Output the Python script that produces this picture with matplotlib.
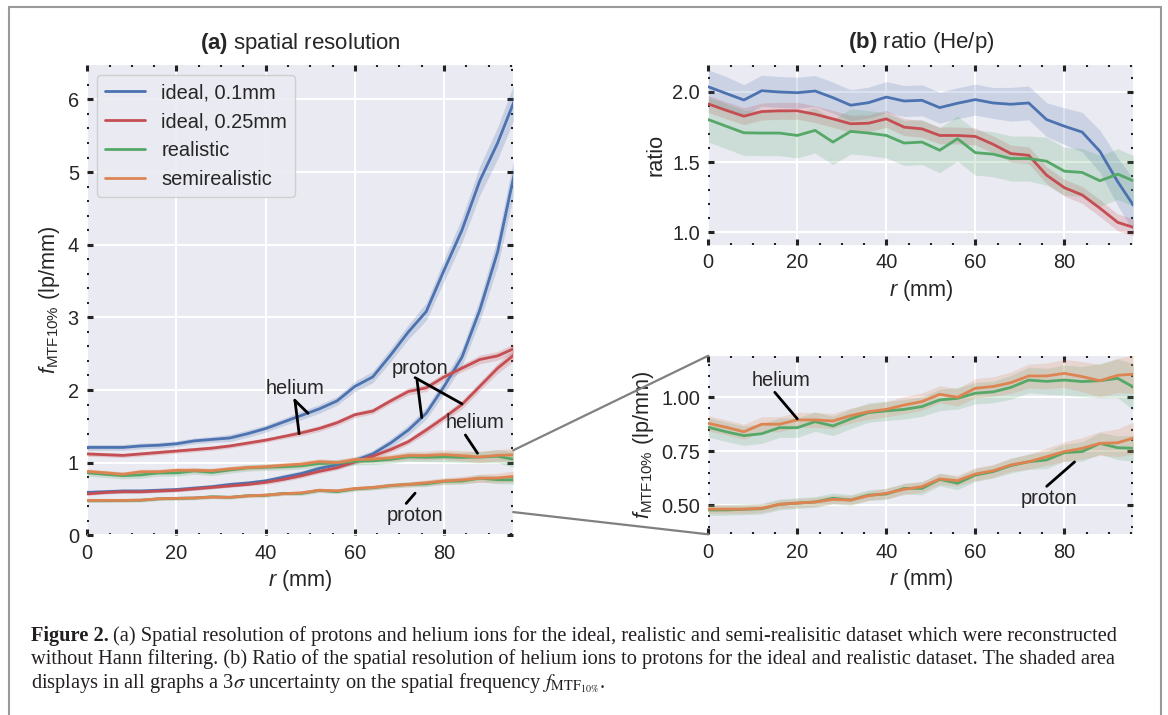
import numpy as np
import matplotlib
matplotlib.use("Agg")
import matplotlib.pyplot as plt
from matplotlib.ticker import AutoMinorLocator, MultipleLocator, FormatStrFormatter
from matplotlib.patches import ConnectionPatch, Rectangle

# radial position of the evaluation bins (mm)
r_mm = [0, 4, 8, 12, 16, 20, 24, 28, 32, 36, 40, 44, 48,
        52, 56, 60, 64, 68, 72, 76, 80, 84, 88, 92, 96]

# f_MTF10% (lp/mm) - ideal dataset, 0.1 mm pixels
ideal01_he = [1.21, 1.21, 1.21, 1.23, 1.24, 1.26, 1.30, 1.32, 1.34, 1.40, 1.47, 1.56, 1.65,
              1.74, 1.85, 2.05, 2.18, 2.48, 2.80, 3.08, 3.65, 4.20, 4.88, 5.40, 6.02]
ideal01_p = [0.59, 0.60, 0.61, 0.61, 0.62, 0.63, 0.65, 0.67, 0.70, 0.72, 0.75, 0.80, 0.85,
             0.92, 0.97, 1.03, 1.12, 1.27, 1.45, 1.68, 2.05, 2.45, 3.10, 3.90, 5.05]
# ideal dataset, 0.25 mm pixels
ideal025_he = [1.12, 1.11, 1.10, 1.12, 1.14, 1.16, 1.18, 1.20, 1.23, 1.27, 1.31, 1.36, 1.41,
               1.47, 1.55, 1.66, 1.71, 1.85, 1.98, 2.03, 2.18, 2.30, 2.42, 2.47, 2.58]
ideal025_p = [0.57, 0.59, 0.60, 0.60, 0.61, 0.62, 0.64, 0.66, 0.68, 0.70, 0.73, 0.77, 0.82,
              0.88, 0.93, 1.01, 1.09, 1.18, 1.29, 1.45, 1.62, 1.80, 2.05, 2.30, 2.50]
# realistic dataset
real_he = [0.861, 0.840, 0.822, 0.831, 0.859, 0.859, 0.887, 0.867, 0.900, 0.929, 0.937, 0.944, 0.957,
           0.988, 0.995, 1.019, 1.025, 1.046, 1.080, 1.074, 1.080, 1.073, 1.077, 1.088, 1.042]
real_p = [0.477, 0.477, 0.480, 0.483, 0.503, 0.509, 0.514, 0.531, 0.523, 0.546, 0.551, 0.577, 0.577,
          0.619, 0.601, 0.639, 0.655, 0.683, 0.701, 0.709, 0.743, 0.748, 0.786, 0.766, 0.763]
# semirealistic dataset
semi_he = [0.879, 0.861, 0.840, 0.875, 0.875, 0.895, 0.895, 0.890, 0.915, 0.933, 0.944, 0.964, 0.980,
           1.014, 1.000, 1.042, 1.050, 1.068, 1.099, 1.099, 1.111, 1.096, 1.077, 1.102, 1.108]
semi_p = [0.481, 0.481, 0.481, 0.485, 0.503, 0.509, 0.514, 0.526, 0.523, 0.543, 0.554, 0.573, 0.585,
          0.621, 0.613, 0.644, 0.659, 0.686, 0.701, 0.724, 0.748, 0.763, 0.786, 0.789, 0.814]

# 3 sigma uncertainties
ideal01_he_err = [0.04, 0.04, 0.04, 0.04, 0.04, 0.04, 0.04, 0.04, 0.05, 0.05, 0.05, 0.05, 0.06,
                  0.06, 0.06, 0.07, 0.08, 0.09, 0.10, 0.12, 0.15, 0.17, 0.20, 0.22, 0.25]
ideal01_p_err = [0.03, 0.03, 0.03, 0.03, 0.03, 0.03, 0.03, 0.03, 0.03, 0.03, 0.03, 0.04, 0.04,
                 0.04, 0.04, 0.05, 0.05, 0.06, 0.07, 0.08, 0.10, 0.12, 0.15, 0.20, 0.25]
ideal025_he_err = [0.03, 0.03, 0.03, 0.03, 0.03, 0.03, 0.03, 0.03, 0.03, 0.03, 0.03, 0.03, 0.04,
                   0.04, 0.04, 0.04, 0.04, 0.04, 0.05, 0.05, 0.05, 0.05, 0.06, 0.06, 0.07]
ideal025_p_err = [0.02, 0.02, 0.02, 0.02, 0.02, 0.02, 0.02, 0.02, 0.02, 0.02, 0.03, 0.03, 0.03,
                  0.03, 0.03, 0.03, 0.04, 0.04, 0.04, 0.05, 0.05, 0.06, 0.06, 0.07, 0.08]
real_he_err = [0.045, 0.045, 0.045, 0.045, 0.045, 0.045, 0.045, 0.045, 0.045, 0.045, 0.045, 0.045, 0.045,
               0.05, 0.05, 0.05, 0.05, 0.055, 0.06, 0.06, 0.07, 0.07, 0.08, 0.09, 0.11]
semi_he_err = [0.035, 0.035, 0.035, 0.035, 0.035, 0.035, 0.035, 0.035, 0.035, 0.035, 0.035, 0.04, 0.04,
               0.04, 0.04, 0.045, 0.045, 0.05, 0.055, 0.06, 0.065, 0.07, 0.075, 0.08, 0.09]
real_p_err = [0.025, 0.025, 0.025, 0.025, 0.025, 0.025, 0.025, 0.025, 0.025, 0.025, 0.025, 0.025, 0.03,
              0.03, 0.03, 0.03, 0.03, 0.035, 0.035, 0.04, 0.04, 0.045, 0.05, 0.055, 0.06]
semi_p_err = [0.02, 0.02, 0.02, 0.02, 0.02, 0.02, 0.02, 0.02, 0.02, 0.02, 0.025, 0.025, 0.025,
              0.025, 0.025, 0.03, 0.03, 0.03, 0.035, 0.04, 0.045, 0.05, 0.055, 0.065, 0.075]

# helium / proton ratio
ratio_ideal01 = [2.035, 1.988, 1.941, 2.007, 1.998, 1.993, 2.005, 1.958, 1.904, 1.922, 1.962, 1.934, 1.939,
                 1.887, 1.918, 1.944, 1.920, 1.911, 1.920, 1.802, 1.755, 1.713, 1.576, 1.360, 1.170]
ratio_ideal025 = [1.913, 1.868, 1.826, 1.859, 1.864, 1.864, 1.840, 1.807, 1.772, 1.776, 1.807, 1.748, 1.736,
                  1.689, 1.689, 1.682, 1.626, 1.560, 1.548, 1.407, 1.318, 1.266, 1.172, 1.071, 1.031]
ratio_real = [1.802, 1.755, 1.708, 1.706, 1.706, 1.689, 1.725, 1.642, 1.718, 1.706, 1.689, 1.635, 1.642,
              1.584, 1.666, 1.567, 1.556, 1.525, 1.525, 1.506, 1.435, 1.426, 1.367, 1.414, 1.360]
ratio_ideal01_err = [0.12, 0.12, 0.11, 0.11, 0.11, 0.11, 0.11, 0.11, 0.11, 0.11, 0.11, 0.11, 0.11,
                     0.11, 0.11, 0.11, 0.11, 0.12, 0.12, 0.12, 0.13, 0.14, 0.15, 0.17, 0.19]
ratio_ideal025_err = [0.06, 0.06, 0.06, 0.06, 0.06, 0.06, 0.06, 0.06, 0.06, 0.06, 0.06, 0.06, 0.06,
                      0.06, 0.06, 0.06, 0.06, 0.06, 0.06, 0.06, 0.06, 0.06, 0.06, 0.06, 0.06]
ratio_real_err = [0.16, 0.16, 0.16, 0.16, 0.16, 0.16, 0.16, 0.16, 0.16, 0.16, 0.16, 0.16, 0.16,
                  0.16, 0.16, 0.16, 0.16, 0.16, 0.16, 0.17, 0.17, 0.17, 0.18, 0.18, 0.18]

C_BLUE = "#4C72B0"
C_RED = "#C44E52"
C_GREEN = "#55A868"
C_ORANGE = "#DD8452"

plt.style.use("seaborn-v0_8-darkgrid")
plt.rcParams.update({
    "font.family": ["Liberation Sans", "DejaVu Sans"],
    "mathtext.fontset": "custom",
    "mathtext.rm": "Liberation Sans",
    "mathtext.it": "Liberation Sans:italic",
    "mathtext.bf": "Liberation Sans:bold",
    "text.color": ".15",
    "axes.labelcolor": ".15",
    "xtick.color": ".15",
    "ytick.color": ".15",
    "xtick.labelsize": 14.4,
    "ytick.labelsize": 14.4,
    "axes.labelsize": 15.6,
    "axes.titlesize": 16,
    "xtick.direction": "in",
    "ytick.direction": "in",
    "xtick.top": True,
    "ytick.right": True,
    "xtick.major.size": 4,
    "ytick.major.size": 4,
    "xtick.major.width": 2.2,
    "ytick.major.width": 2.2,
    "xtick.minor.size": 1.5,
    "ytick.minor.size": 1.5,
    "xtick.minor.width": 1.5,
    "ytick.minor.width": 1.5,
    "xtick.minor.visible": True,
    "ytick.minor.visible": True,
    "grid.linewidth": 1.5,
})

fig = plt.figure(figsize=(11.68, 7.15), dpi=100)
ax_a = fig.add_axes([0.0747, 0.2513, 0.3647, 0.6574])
ax_b = fig.add_axes([0.6064, 0.6573, 0.3639, 0.2518])
ax_c = fig.add_axes([0.6064, 0.2527, 0.3639, 0.2498])

r = np.array(r_mm)


def band(ax, y, err, color, label=None, alpha=0.22):
    y = np.array(y)
    err = np.array(err)
    ax.fill_between(r, y - err, y + err, color=color, alpha=alpha, lw=0)
    ax.plot(r, y, color=color, lw=2, label=label)


def style_ticks(ax):
    for side in ("top", "bottom", "left", "right"):
        ax.spines[side].set_visible(False)
    ax.xaxis.set_major_locator(MultipleLocator(20))
    ax.xaxis.set_minor_locator(AutoMinorLocator())
    ax.yaxis.set_minor_locator(AutoMinorLocator())
    ax.tick_params(which="both", colors="#222222", labelcolor=".15", pad=6)
    ax.grid(True, which="major", color="white", lw=1.5)
    ax.grid(False, which="minor")
    ax.set_xlim(0, 95.5)


ylab = r"$f_{\mathrm{MTF10\%}}$ (lp/mm)"
xlab = r"$r$ (mm)"

# (a) spatial resolution
band(ax_a, ideal01_he, ideal01_he_err, C_BLUE, "ideal, 0.1mm")
band(ax_a, ideal01_p, ideal01_p_err, C_BLUE)
band(ax_a, ideal025_he, ideal025_he_err, C_RED, "ideal, 0.25mm")
band(ax_a, ideal025_p, ideal025_p_err, C_RED)
band(ax_a, real_he, real_he_err, C_GREEN, "realistic")
band(ax_a, real_p, real_p_err, C_GREEN)
band(ax_a, semi_he, semi_he_err, C_ORANGE, "semirealistic")
band(ax_a, semi_p, semi_p_err, C_ORANGE)
style_ticks(ax_a)
ax_a.set_ylim(0, 6.47)
ax_a.set_yticks([0, 1, 2, 3, 4, 5, 6])
ax_a.set_title(r"$\mathbf{(a)}$ spatial resolution", pad=12)
ax_a.set_xlabel(xlab)
ax_a.set_ylabel(ylab)
leg = ax_a.legend(loc="upper left", fontsize=14.4, frameon=True, fancybox=True,
                  facecolor="#EAEAF2", edgecolor="0.8", framealpha=0.9,
                  borderaxespad=0.5)

arrow = dict(arrowstyle="-", color="black", lw=2, shrinkA=0, shrinkB=0)
ax_a.annotate("helium", xy=(47.5, 1.40), xytext=(46.5, 2.02), ha="center", va="center",
              fontsize=14.4, arrowprops=dict(arrow, relpos=(0.5, 0.0)))
ax_a.annotate("", xy=(49.5, 1.68), xytext=(46.5, 1.86), arrowprops=arrow)
ax_a.annotate("proton", xy=(75.0, 1.62), xytext=(74.5, 2.30), ha="center", va="center",
              fontsize=14.4, arrowprops=dict(arrow, relpos=(0.45, 0.0)))
ax_a.annotate("", xy=(84.0, 1.81), xytext=(73.5, 2.17), arrowprops=arrow)
ax_a.annotate("helium", xy=(87.5, 1.13), xytext=(87.0, 1.55), ha="center", va="center",
              fontsize=14.4, arrowprops=dict(arrow, relpos=(0.3, 0.0)))
ax_a.annotate("proton", xy=(73.5, 0.58), xytext=(73.5, 0.27), ha="center", va="center",
              fontsize=14.4, arrowprops=dict(arrow, relpos=(0.3, 1.0)))

# (b) helium / proton ratio
band(ax_b, ratio_ideal01, ratio_ideal01_err, C_BLUE, alpha=0.2)
band(ax_b, ratio_ideal025, ratio_ideal025_err, C_RED, alpha=0.2)
band(ax_b, ratio_real, ratio_real_err, C_GREEN, alpha=0.2)
style_ticks(ax_b)
ax_b.set_ylim(0.91, 2.19)
ax_b.set_yticks([1.0, 1.5, 2.0])
ax_b.set_title(r"$\mathbf{(b)}$ ratio (He/p)", pad=12)
ax_b.set_xlabel(xlab)
ax_b.set_ylabel("ratio")

# zoom on the realistic and semirealistic curves
band(ax_c, real_he, real_he_err, C_GREEN, alpha=0.2)
band(ax_c, semi_he, semi_he_err, C_ORANGE, alpha=0.2)
band(ax_c, real_p, real_p_err, C_GREEN, alpha=0.2)
band(ax_c, semi_p, semi_p_err, C_ORANGE, alpha=0.2)
style_ticks(ax_c)
ax_c.set_ylim(0.364, 1.193)
ax_c.set_yticks([0.5, 0.75, 1.0])
ax_c.yaxis.set_major_formatter(FormatStrFormatter("%.2f"))
ax_c.set_xlabel(xlab)
ax_c.set_ylabel(ylab)
ax_c.annotate("helium", xy=(20.0, 0.90), xytext=(16.4, 1.08), ha="center", va="center",
              fontsize=14.4, arrowprops=dict(arrow, relpos=(0.35, 0.0)))
ax_c.annotate("proton", xy=(82.3, 0.70), xytext=(76.6, 0.53), ha="center", va="center",
              fontsize=14.4, arrowprops=dict(arrow, relpos=(0.4, 1.0)))

# lines linking the zoomed region of (a) to the lower right panel
for ya, yb in ((1.17, 1.0), (0.32, 0.0)):
    con = ConnectionPatch(xyA=(95.5, ya), coordsA="data", axesA=ax_a,
                          xyB=(0.0, yb), coordsB="axes fraction", axesB=ax_c,
                          color="#808080", lw=1.6)
    fig.add_artist(con)

# frame around the figure and caption
fig.add_artist(Rectangle((0.0075, -0.02), 0.9863, 1.0098, transform=fig.transFigure,
                         fill=False, edgecolor="#9a9a9a", lw=1.5))

cap_size = 14.7
cap_col = "#231f20"
cap_x = 31 / 1168
cap_y = [1 - 636 / 715, 1 - 659.5 / 715, 1 - 683 / 715]
fig.canvas.draw()
renderer = fig.canvas.get_renderer()
t_bold = fig.text(cap_x, cap_y[0], "Figure 2.", fontsize=cap_size, family="Liberation Serif",
                  weight="bold", color=cap_col, va="center")
bb = t_bold.get_window_extent(renderer)
x_rest = (bb.x1 + 4) / fig.bbox.width
fig.text(x_rest, cap_y[0],
         "(a) Spatial resolution of protons and helium ions for the ideal, realistic and "
         "semi-realisitic dataset which were reconstructed",
         fontsize=cap_size, family="Liberation Serif", color=cap_col, va="center")
fig.text(cap_x, cap_y[1],
         "without Hann filtering. (b) Ratio of the spatial resolution of helium ions to protons "
         "for the ideal and realistic dataset. The shaded area",
         fontsize=cap_size, family="Liberation Serif", color=cap_col, va="center")
fig.text(cap_x, cap_y[2],
         r"displays in all graphs a 3$\sigma$ uncertainty on the spatial frequency "
         r"$f_{\mathrm{MTF}_{10\%}}$.",
         fontsize=cap_size, family="Liberation Serif", color=cap_col, va="center",
         math_fontfamily="stix")

fig.savefig("out.png", dpi=100)
